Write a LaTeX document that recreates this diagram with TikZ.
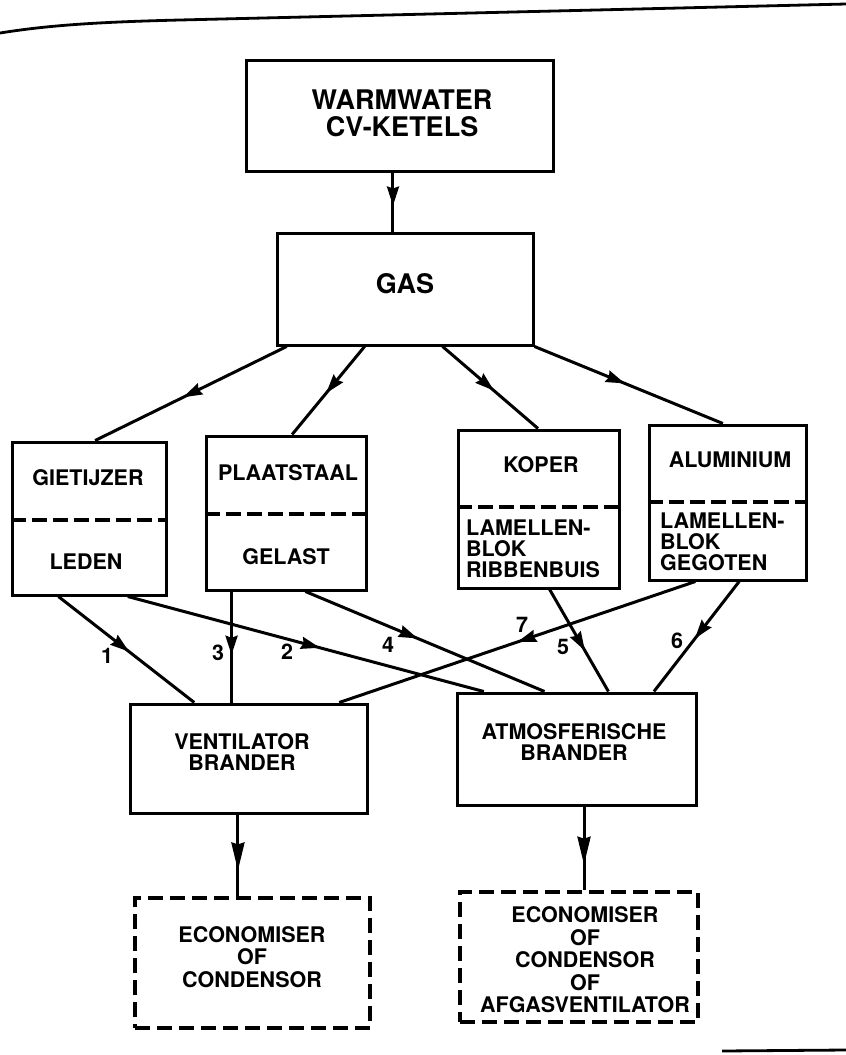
\documentclass[tikz,border=0pt]{standalone}
\usepackage{fontspec}
\setmainfont{TeX Gyre Heros}
\usetikzlibrary{arrows.meta,decorations.markings,calc}
\begin{document}
\begin{tikzpicture}[x=1pt,y=-1pt,
  box/.style={draw, line width=3pt, rectangle, inner sep=0pt},
  dbox/.style={draw, line width=4.8pt, dash pattern=on 15pt off 7pt, rectangle, inner sep=0pt},
  divider/.style={line width=4pt, dash pattern=on 15pt off 6pt},
  txt/.style={font=\fontsize{21.5}{22}\selectfont\bfseries, inner sep=0pt, align=center},
  ltxt/.style={font=\fontsize{21.5}{21}\selectfont\bfseries, inner sep=0pt, align=left, anchor=west},
  bigtxt/.style={font=\fontsize{27}{27}\selectfont\bfseries, inner sep=0pt, align=center},
  lbl/.style={font=\fontsize{21.5}{21}\selectfont\bfseries, inner sep=0pt},
  conn/.style={line width=3pt},
  midarrow/.style={postaction={decorate}, decoration={markings, mark=at position #1 with {\arrow{Stealth[length=19pt,width=12pt,inset=2pt]}}}},
  midarrow/.default=0.55,
  longarrow/.style={postaction={decorate}, decoration={markings, mark=at position #1 with {\arrow{Stealth[length=28pt,width=13pt,inset=2pt]}}}},
  frame/.style={line width=2.8pt}
]
\useasboundingbox (0,0) rectangle (846,1055);

% frame lines of the scanned page
\draw[frame] (0,33) .. controls (50,25) and (100,22) .. (180,20) -- (846,4);
\draw[frame] (722,1051) -- (846,1050);

% boxes
\node[box, minimum width=307pt, minimum height=111pt] (W) at (399.5,115.5) {};
\node[box, minimum width=256pt, minimum height=112pt] (GAS) at (405,289) {};
\node[box, minimum width=154pt, minimum height=153pt] (GIE) at (89,518.5) {};
\node[box, minimum width=160pt, minimum height=154pt] (PLA) at (286,513) {};
\node[box, minimum width=161pt, minimum height=158pt] (KOP) at (538.5,509) {};
\node[box, minimum width=157pt, minimum height=155pt] (ALU) at (727.5,502.5) {};
\node[box, minimum width=237pt, minimum height=109pt] (VEN) at (248.5,758.5) {};
\node[box, minimum width=239pt, minimum height=112pt] (ATM) at (576.5,749) {};
\node[dbox, minimum width=235pt, minimum height=130pt] (D1) at (252.5,963) {};
\node[dbox, minimum width=238pt, minimum height=130pt] (D2) at (579,957) {};

% dashed dividers
\draw[divider] (GIE.west |- 0,520) -- (GIE.east |- 0,520);
\draw[divider] (PLA.west |- 0,514) -- (PLA.east |- 0,514);
\draw[divider] (KOP.west |- 0,507) -- (KOP.east |- 0,507);
\draw[divider] (ALU.west |- 0,502) -- (ALU.east |- 0,502);

% texts
\node[bigtxt] (tW) at (402,113) {WARMWATER\\CV-KETELS};
\node[bigtxt] (tGAS) at (405,284) {GAS};
\node[txt] (tGIE1) at (88,478) {GIETIJZER};
\node[txt] (tGIE2) at (86,562) {LEDEN};
\node[txt] (tPLA1) at (288,473) {PLAATSTAAL};
\node[txt] (tPLA2) at (286,557) {GELAST};
\node[txt] (tKOP1) at (541,465) {KOPER};
\node[ltxt] (tKOP2) at (466,549) {LAMELLEN-\\BLOK\\RIBBENBUIS};
\node[txt] (tALU1) at (730,460) {ALUMINIUM};
\node[ltxt] (tALU2) at (660,542) {LAMELLEN-\\BLOK\\GEGOTEN};
\node[txt, font=\fontsize{21.5}{21}\selectfont\bfseries] (tVEN) at (242,752) {VENTILATOR\\BRANDER};
\node[txt, font=\fontsize{21.5}{21}\selectfont\bfseries] (tATM) at (574,742) {ATMOSFERISCHE\\BRANDER};
\node[txt, font=\fontsize{21.5}{22.5}\selectfont\bfseries] (tD1) at (252,957) {ECONOMISER\\OF\\CONDENSOR};
\node[txt, font=\fontsize{21.5}{22.5}\selectfont\bfseries] (tD2) at (585,960) {ECONOMISER\\OF\\CONDENSOR\\OF\\AFGASVENTILATOR};

% connector end points on the boxes
\path ($(W.south west)!0.479!(W.south east)$) coordinate (wa);
\path ($(GAS.south west)!0.043!(GAS.south east)$) coordinate (g1);
\path ($(GAS.south west)!0.344!(GAS.south east)$) coordinate (g2);
\path ($(GAS.south west)!0.645!(GAS.south east)$) coordinate (g3);
\path ($(GIE.north west)!0.539!(GIE.north east)$) coordinate (gieN);
\path ($(PLA.north west)!0.5375!(PLA.north east)$) coordinate (plaN);
\path ($(KOP.north west)!0.497!(KOP.north east)$) coordinate (kopN);
\path ($(ALU.north west)!0.471!(ALU.north east)$) coordinate (aluN);
\path ($(GIE.south west)!0.305!(GIE.south east)$) coordinate (gieS1);
\path ($(GIE.south west)!0.747!(GIE.south east)$) coordinate (gieS2);
\path ($(PLA.south west)!0.166!(PLA.south east)$) coordinate (plaS1);
\path ($(PLA.south west)!0.619!(PLA.south east)$) coordinate (plaS2);
\path ($(KOP.south west)!0.568!(KOP.south east)$) coordinate (kopS);
\path ($(ALU.south west)!0.299!(ALU.south east)$) coordinate (aluS7);
\path ($(ALU.south west)!0.573!(ALU.south east)$) coordinate (aluS6);
\path ($(VEN.north west)!0.274!(VEN.north east)$) coordinate (venN1);
\path ($(VEN.north west)!0.878!(VEN.north east)$) coordinate (venN7);
\path ($(ATM.north west)!0.117!(ATM.north east)$) coordinate (atmN2);
\path ($(ATM.north west)!0.368!(ATM.north east)$) coordinate (atmN4);
\path ($(ATM.north west)!0.632!(ATM.north east)$) coordinate (atmN5);
\path ($(ATM.north west)!0.820!(ATM.north east)$) coordinate (atmN6);
\path ($(VEN.south west)!0.456!(VEN.south east)$) coordinate (venS);
\path ($(ATM.south west)!0.531!(ATM.south east)$) coordinate (atmS);

% connectors
\draw[conn, midarrow=0.56] (wa) -- (wa |- GAS.north);
\draw[conn, midarrow=0.54] (g1) -- (gieN);
\draw[conn, midarrow=0.53] (g2) -- (plaN);
\draw[conn, midarrow=0.54] (g3) -- (kopN);
\draw[conn, midarrow=0.48] (GAS.south east) -- (aluN);

\draw[conn, midarrow=0.52] (gieS1) -- (venN1);
\draw[conn, midarrow=0.54] (gieS2) -- (atmN2);
\draw[conn, midarrow=0.57] (plaS1) -- (plaS1 |- VEN.north);
\draw[conn, midarrow=0.47] (plaS2) -- (atmN4);
\draw[conn, midarrow=0.60] (kopS) -- (atmN5);
\draw[conn, midarrow=0.52] (aluS6) -- (atmN6);
\draw[conn, midarrow=0.50] (aluS7) -- (venN7);

\draw[conn, longarrow=0.69] (venS) -- (venS |- D1.north);
\draw[conn, longarrow=0.70] (atmS) -- (atmS |- D2.north);

% edge labels
\node[lbl] (l1) at (107,656) {1};
\node[lbl] (l3) at (218,653) {3};
\node[lbl] (l2) at (287,652) {2};
\node[lbl] (l4) at (388,645) {4};
\node[lbl] (l7) at (522,625) {7};
\node[lbl] (l5) at (563,647) {5};
\node[lbl] (l6) at (677,641) {6};
\end{tikzpicture}
\end{document}
